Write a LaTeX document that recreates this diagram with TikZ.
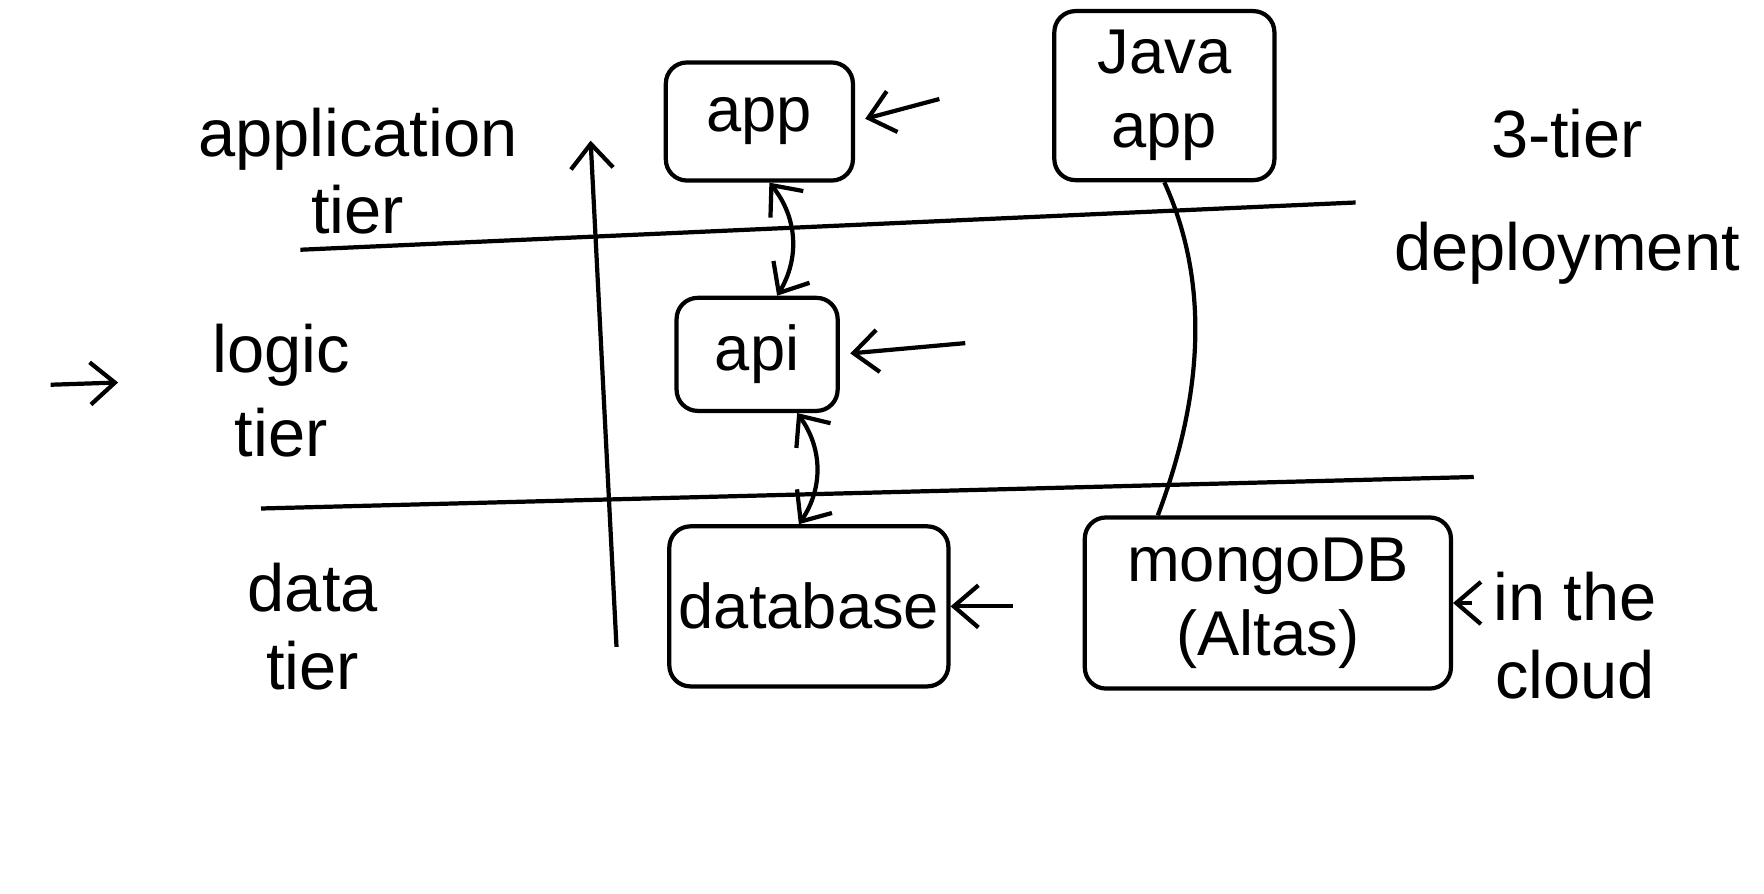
\documentclass[tikz,border=0pt]{standalone}
\usepackage{fontspec}
\setmainfont{Liberation Sans}
\usetikzlibrary{arrows.meta}
\begin{document}
\begin{tikzpicture}[x=0.01125cm, y=-0.01125cm, line width=1.2pt,
    txt/.style={font=\fontsize{19}{22}\selectfont, align=center},
    tierbox/.style={draw, rounded corners=6pt, inner sep=0pt, font=\fontsize{18}{21}\selectfont, align=center},
    barb/.style={-{Straight Barb[length=7pt,width=12pt]}},
    barbs/.style={{Straight Barb[length=7pt,width=12pt]}-{Straight Barb[length=7pt,width=12pt]}}]
    \useasboundingbox (0,0) rectangle (1568,794);
    \coordinate (t1w) at (267,222); \coordinate (t1e) at (1205,180); % livelli
    \coordinate (t2w) at (232,452); \coordinate (t2e) at (1310,424);
    \draw (t1w) -- (t1e); \draw (t2w) -- (t2e);
    \coordinate (ax0) at (548,575); \coordinate (ax1) at (525,125);
    \draw[barb] (ax0) -- (ax1);
    \node (apptier) at (318,152) [txt] {application\\tier};
    \node (logic) at (250,347) [txt] {logic\\[2pt]tier};
    \node (data) at (278,557) [txt] {data\\tier};
    \node (title) at (1393,175) [txt] {3-tier\\[10pt]deployment};
    \node (cloud) at (1400,565) [txt] {in the\\cloud};
    \node (app) at (675,108) [tierbox, minimum width=1.87cm, minimum height=1.18cm] {app};
    \node (java) at (1035,85) [tierbox, minimum width=2.2cm, minimum height=1.69cm] {Java\\app};
    \node (api) at (673,315) [tierbox, minimum width=1.61cm, minimum height=1.13cm] {api};
    \node (db) at (719,539) [tierbox, minimum width=2.79cm, minimum height=1.6cm] {database};
    \node (mongo) at (1127,536) [tierbox, minimum width=3.66cm, minimum height=1.71cm] {mongoDB\\(Altas)};
    \coordinate (p1) at (835,88); \coordinate (p2) at (858,305); \coordinate (p3) at (900,539);
    \draw[barb, shorten >=3pt] (p1) -- (app.east);
    \draw[barb, shorten >=3pt] (p2) -- (api.east);
    \draw[barb] (p3) -- (db.east);
    \draw[barb] ([xshift=-2pt]cloud.west |- mongo.east) -- (mongo.east);
    \coordinate (m0) at (45,342); \coordinate (m1) at (105,340); % freccia
    \draw[barb] (m0) -- (m1);
    \draw[barbs] ([xshift=0.1cm]app.south) to[bend left=35] ([xshift=0.2cm]api.north);
    \draw[barbs] ([xshift=0.4cm]api.south) to[bend left=35] ([xshift=-0.1cm]db.north);
    \draw (java.south) .. controls (1075,250) and (1070,350) .. ([xshift=-1.1cm]mongo.north);
\end{tikzpicture}
\end{document}
